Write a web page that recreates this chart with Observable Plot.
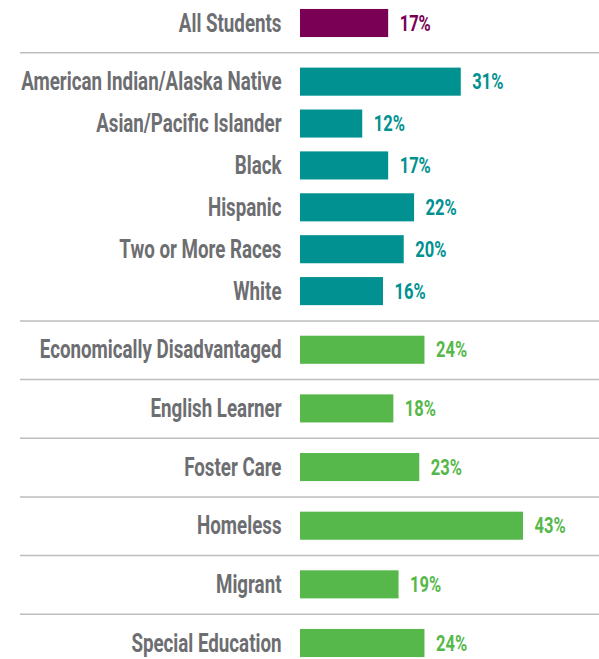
<!DOCTYPE html>
<html>
<head>
<meta charset="utf-8">
<script src="https://cdn.jsdelivr.net/npm/d3@7"></script>
<script src="https://cdn.jsdelivr.net/npm/@observablehq/plot@0.6"></script>
<style>
  html, body { margin: 0; padding: 0; background: #fff; }
  #chart svg { display: block; }
</style>
</head>
<body>
<div id="chart"></div>
<script>
const categories = [
  "All Students",
  "American Indian/Alaska Native",
  "Asian/Pacific Islander",
  "Black",
  "Hispanic",
  "Two or More Races",
  "White",
  "Economically Disadvantaged",
  "English Learner",
  "Foster Care",
  "Homeless",
  "Migrant",
  "Special Education"
];
const values = [17, 31, 12, 17, 22, 20, 16, 24, 18, 23, 43, 19, 24];
const groups = ["all", "race", "race", "race", "race", "race", "race",
                "program", "program", "program", "program", "program", "program"];
const groupColors = { all: "#7a0055", race: "#009190", program: "#56b84a" };

// Row slots: rows inside the race group are packed, all others get extra space
let pos = 0;
const rows = categories.map((c, i) => {
  if (i > 0) pos += (groups[i] === "race" && groups[i - 1] === "race") ? 1 : 1.4;
  return { category: c, value: values[i], group: groups[i], slot: pos };
});
const separators = [];
for (let i = 1; i < rows.length; i++) {
  if (!(rows[i].group === "race" && rows[i - 1].group === "race")) {
    separators.push((rows[i].slot + rows[i - 1].slot) / 2);
  }
}
const half = 0.335;
const font = "Roboto, 'DejaVu Sans', sans-serif";

const chart = Plot.plot({
  width: 599,
  height: 659,
  marginLeft: 20,
  marginRight: 0,
  marginTop: 0,
  marginBottom: 0,
  x: { domain: [0, 43], range: [300, 523], axis: null },
  y: { domain: [0, pos], range: [23, 643], axis: null },
  style: { fontFamily: font, background: "#fff" },
  marks: [
    Plot.ruleY(separators, { stroke: "#bdbdbd", strokeWidth: 1.5 }),
    Plot.rectX(rows, {
      x1: 0, x2: "value",
      y1: d => d.slot - half, y2: d => d.slot + half,
      fill: d => groupColors[d.group]
    }),
    Plot.text(rows, {
      x: 0, y: "slot", text: "category", className: "lbl",
      textAnchor: "end", dx: -19, fill: "#6d6e71",
      fontSize: 25, fontWeight: "bold"
    }),
    Plot.text(rows, {
      x: "value", y: "slot", text: d => d.value + "%", className: "val",
      textAnchor: "start", dx: 11, fill: d => groupColors[d.group],
      fontSize: 22, fontWeight: "bold"
    })
  ]
});
// condensed look: squeeze glyphs horizontally around their anchor
d3.select(chart).selectAll(".lbl text").attr("transform", function () {
  return (this.getAttribute("transform") || "") + " scale(0.75,1)";
});
d3.select(chart).selectAll(".val text").attr("transform", function () {
  return (this.getAttribute("transform") || "") + " scale(0.75,1)";
});
document.getElementById("chart").appendChild(chart);
</script>
</body>
</html>
